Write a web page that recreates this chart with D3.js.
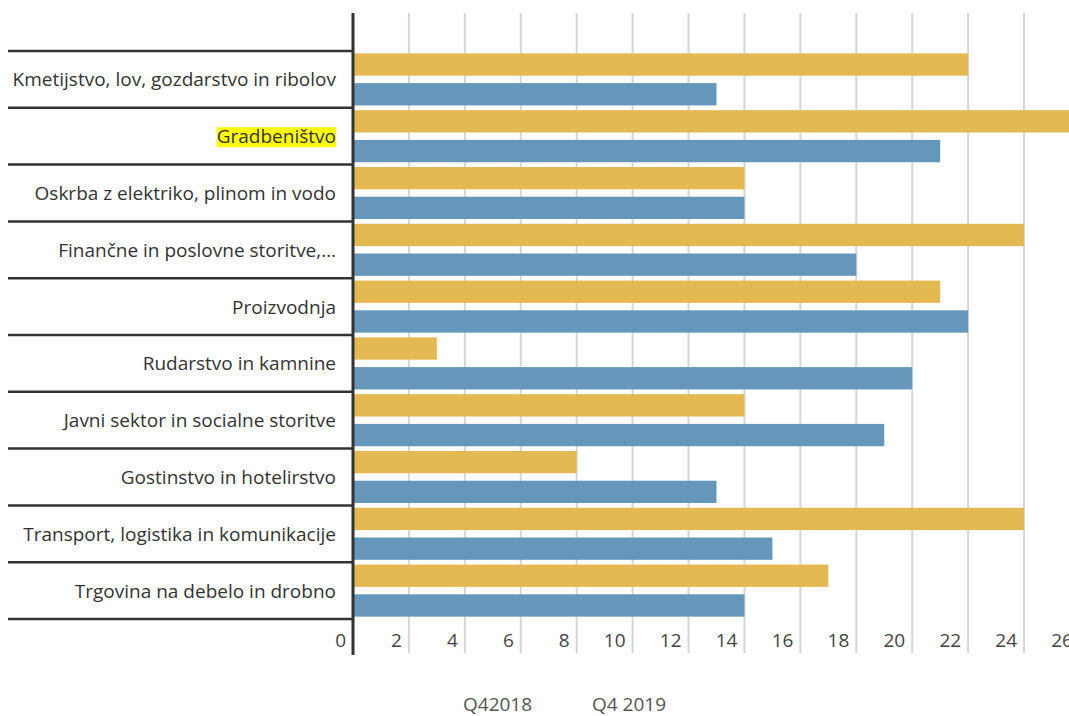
<!DOCTYPE html>
<html>
<head>
<meta charset="utf-8">
<script src="https://cdn.jsdelivr.net/npm/d3@7"></script>
<style>
  html, body { margin: 0; padding: 0; background: #fff; }
  svg { display: block; font-family: "Open Sans", "Noto Sans", sans-serif; }
</style>
</head>
<body>
<svg id="chart" width="1069" height="716"></svg>
<script>
const categories = [
  "Kmetijstvo, lov, gozdarstvo in ribolov",
  "Gradbeništvo",
  "Oskrba z elektriko, plinom in vodo",
  "Finančne in poslovne storitve,…",
  "Proizvodnja",
  "Rudarstvo in kamnine",
  "Javni sektor in socialne storitve",
  "Gostinstvo in hotelirstvo",
  "Transport, logistika in komunikacije",
  "Trgovina na debelo in drobno"
];
const seriesNames = ["Q42018", "Q4 2019"];
const q42018 = [22, 27, 14, 24, 21, 3, 14, 8, 24, 17];
const q42019 = [13, 21, 14, 18, 22, 20, 19, 13, 15, 14];
const xTicks = [0, 2, 4, 6, 8, 10, 12, 14, 16, 18, 20, 22, 24, 26];
const highlighted = ["Gradbeništvo"];

const colors = ["#E5B951", "#6497B9"];
const svg = d3.select("#chart");

const x0 = 353, rowTop = 51, rowBottom = 619;
const x = d3.scaleLinear().domain([0, 26]).range([x0, x0 + 26 * 27.96]);
const y = d3.scaleBand().domain(categories).range([rowTop, rowBottom]).paddingInner(0).paddingOuter(0);
const inner = d3.scaleBand().domain([0, 1]).range([0, y.bandwidth()]).paddingInner(0.25).paddingOuter(0.08);

// gridlines
svg.append("g").selectAll("line").data(xTicks.filter(d => d > 0)).join("line")
  .attr("x1", d => x(d)).attr("x2", d => x(d))
  .attr("y1", 13).attr("y2", 653)
  .attr("stroke", "#d6d6d6").attr("stroke-width", 2);

// bars
const rows = categories.map((c, i) => ({ c, vals: [q42018[i], q42019[i]] }));
const g = svg.append("g");
rows.forEach(r => {
  r.vals.forEach((v, j) => {
    g.append("rect")
      .attr("x", x(0))
      .attr("y", y(r.c) + inner(j))
      .attr("width", x(v) - x(0))
      .attr("height", inner.bandwidth())
      .attr("fill", colors[j]);
  });
});

// row separators
const seps = categories.map(c => y(c)).concat([rowBottom]);
svg.append("g").selectAll("line").data(seps).join("line")
  .attr("x1", 8).attr("x2", x0)
  .attr("y1", d => d).attr("y2", d => d)
  .attr("stroke", "#333").attr("stroke-width", 2.5);

// category labels
const labels = svg.append("g");
categories.forEach(c => {
  const t = labels.append("text")
    .attr("x", 336)
    .attr("y", y(c) + y.bandwidth() / 2 + 7)
    .attr("text-anchor", "end")
    .attr("font-size", 19)
    .attr("fill", "#333")
    .text(c);
  if (highlighted.includes(c)) {
    const bb = t.node().getBBox();
    labels.insert("rect", "text")
      .attr("x", bb.x).attr("y", bb.y + 4)
      .attr("width", bb.width).attr("height", bb.height - 6)
      .attr("fill", "#ffff00");
  }
});

// axis line
svg.append("line")
  .attr("x1", x0).attr("x2", x0).attr("y1", 13).attr("y2", 655)
  .attr("stroke", "#333").attr("stroke-width", 3);

// tick labels
svg.append("g").selectAll("text").data(xTicks).join("text")
  .attr("x", d => x(d) - 7)
  .attr("y", 647)
  .attr("text-anchor", "end")
  .attr("font-size", 19)
  .attr("fill", "#444")
  .text(d => d);

// legend
const legendX = [463, 592];
svg.append("g").selectAll("text").data(seriesNames).join("text")
  .attr("x", (d, i) => legendX[i])
  .attr("y", 711)
  .attr("font-size", 19)
  .attr("fill", "#555")
  .text(d => d);
</script>
</body>
</html>
